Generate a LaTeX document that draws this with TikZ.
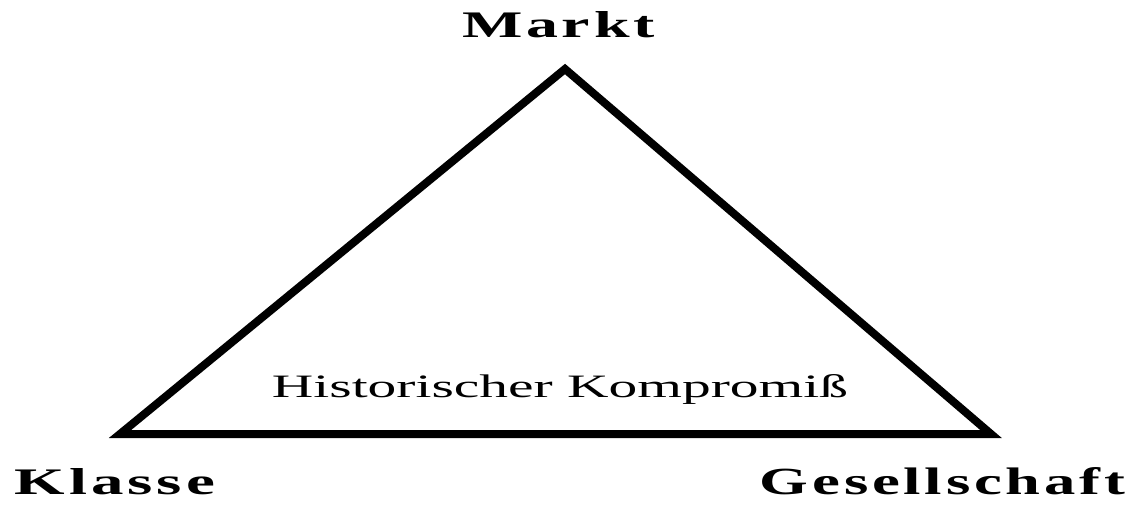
\documentclass[tikz,border=0pt]{standalone}
\usepackage{fontspec}
\setmainfont{Liberation Serif}
\newfontfamily\spacedbold[LetterSpace=6]{Liberation Serif Bold}
\newcommand{\widelabel}[3]{\resizebox{#1cm}{#2cm}{#3}}
\tikzset{
  corner/.style={font=\spacedbold,anchor=base,inner sep=0pt},
  middle/.style={anchor=base,inner sep=0pt}
}
\begin{document}
\begin{tikzpicture}[x=1cm,y=1cm]
\useasboundingbox (0,0) rectangle (11.32,5.07);
\coordinate (top) at (5.65,4.38);
\coordinate (left) at (1.20,0.73);
\coordinate (right) at (9.91,0.73);
\draw[line width=0.08cm] (top) -- (left) -- (right) -- cycle;

\node[corner] (markt) at (5.585,4.70) {\widelabel{1.93}{0.26}{Markt}};
\node[corner] (klasse) at (1.15,0.13) {\widelabel{2.00}{0.26}{Klasse}};
\node[corner] (gesellschaft) at (9.425,0.13) {\widelabel{3.65}{0.27}{Gesellschaft}};
\node[middle] (kompromiss) at (5.60,1.10) {\widelabel{5.76}{0.23}{Historischer Kompromiß}};
\end{tikzpicture}
\end{document}
